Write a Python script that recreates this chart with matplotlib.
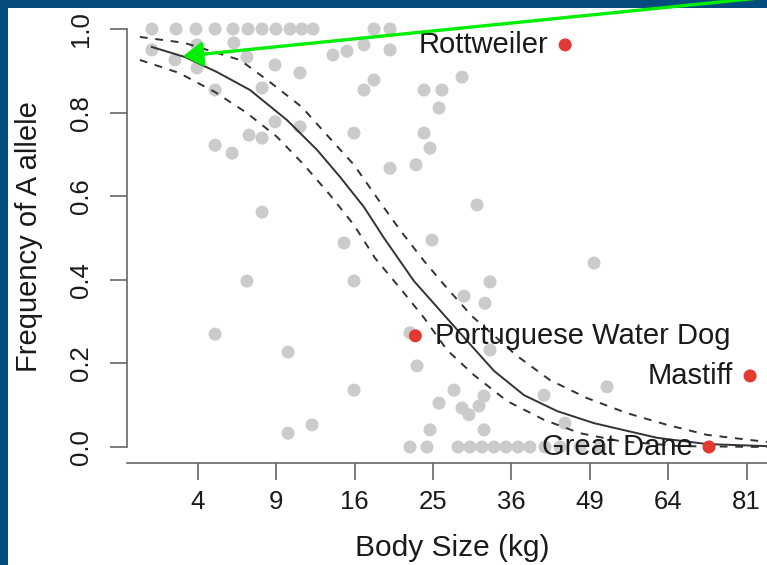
import numpy as np
import matplotlib.pyplot as plt
from matplotlib.patches import Rectangle

plt.rcParams['font.family'] = ['Liberation Sans', 'DejaVu Sans']

# grey dots: breed body size (kg) vs frequency of the A allele
size_kg = [2.00, 2.97, 3.91, 4.93, 6.00, 6.97, 7.95, 8.98, 10.09, 11.08, 12.04, 18.04, 19.82,
           2.00, 2.92, 3.96, 3.96, 6.06, 6.90, 8.91, 4.93, 7.95, 8.91, 7.04, 7.95, 4.93, 5.94,
           7.95, 10.91, 10.91, 13.87, 15.23, 16.97, 19.82, 18.04, 16.97, 23.87, 26.16, 28.84,
           25.77, 15.94, 23.87, 24.62, 19.82, 22.88, 30.93, 24.87, 14.94, 15.94, 6.90, 4.93,
           9.93, 15.94, 9.93, 11.95, 49.76, 32.80, 29.11, 32.07, 32.80, 23.00, 22.15, 27.75,
           31.93, 31.21, 28.84, 29.80, 25.77, 24.62, 31.93, 41.16, 44.67, 52.12,
           22.15, 24.24, 28.29, 29.94, 31.64, 33.39, 35.18, 37.02, 38.90, 41.33, 43.82, 47.27, 50.84]
freq_a = [1.0, 1.0, 1.0, 1.0, 1.0, 1.0, 1.0, 1.0, 1.0, 1.0, 1.0, 1.0, 1.0,
          0.950, 0.926, 0.962, 0.907, 0.967, 0.933, 0.914, 0.854, 0.859, 0.778, 0.746, 0.739, 0.722, 0.703,
          0.562, 0.895, 0.766, 0.938, 0.947, 0.962, 0.950, 0.878, 0.854, 0.854, 0.854, 0.885,
          0.811, 0.751, 0.751, 0.715, 0.667, 0.675, 0.579, 0.495, 0.488, 0.397, 0.397, 0.270,
          0.227, 0.136, 0.033, 0.053, 0.440, 0.395, 0.361, 0.344, 0.232, 0.194, 0.273, 0.136,
          0.122, 0.098, 0.093, 0.077, 0.105, 0.041, 0.041, 0.124, 0.057, 0.144,
          0.0, 0.0, 0.0, 0.0, 0.0, 0.0, 0.0, 0.0, 0.0, 0.0, 0.0, 0.0, 0.0]

# fitted curve and its confidence band
fit_kg = [2.00, 3.37, 5.04, 7.11, 9.85, 12.39, 14.55, 16.97, 19.14, 22.63, 26.42, 29.53,
          33.39, 37.96, 43.32, 49.76, 61.73, 72.16, 85.75]
fit_freq = [0.957, 0.933, 0.897, 0.854, 0.782, 0.711, 0.646, 0.574, 0.500, 0.397, 0.316, 0.254,
            0.182, 0.124, 0.086, 0.057, 0.022, 0.007, 0.002]
upper_kg = [1.59, 3.33, 6.44, 8.53, 11.08, 13.31, 15.94, 18.37, 20.97, 23.87, 26.82, 30.22,
            36.86, 42.15, 48.50, 55.87, 63.76, 72.16, 85.75]
upper_freq = [0.981, 0.967, 0.926, 0.873, 0.813, 0.746, 0.675, 0.596, 0.519, 0.445, 0.380, 0.313,
              0.218, 0.160, 0.117, 0.081, 0.053, 0.029, 0.012]
lower_kg = [1.59, 3.10, 4.93, 6.90, 9.06, 11.25, 13.59, 15.94, 18.15, 20.97, 23.87, 26.82,
            30.50, 35.33, 41.16, 47.27, 54.54, 66.40, 85.75]
lower_freq = [0.926, 0.895, 0.849, 0.799, 0.742, 0.675, 0.603, 0.531, 0.452, 0.380, 0.309, 0.232,
              0.172, 0.110, 0.065, 0.033, 0.014, 0.002, 0.0]

breeds = ['Rottweiler', 'Portuguese Water Dog', 'Mastiff', 'Great Dane']
breed_kg = [44.7, 22.8, 81.8, 72.6]
breed_freq = [0.962, 0.266, 0.170, 0.0]
label_side = ['left', 'right', 'left', 'left']

xticks = [4, 9, 16, 25, 36, 49, 64, 81]
yticks = [0.0, 0.2, 0.4, 0.6, 0.8, 1.0]

W, H = 767, 565
fig = plt.figure(figsize=(W / 100, H / 100), dpi=100)
fig.patch.set_facecolor('#054b7d')
fig.add_artist(Rectangle((8 / W, 0), 1, 1 - 8 / H, transform=fig.transFigure,
                         facecolor='white', edgecolor='none', zorder=-1))

ax = fig.add_axes([127 / W, 1 - 463 / H, (W - 127) / W, (463 - 12) / H])
ax.set_facecolor('none')
ax.set_xscale('function', functions=(lambda x: np.sqrt(np.clip(x, 0, None)), np.square))
ax.set_xlim(1.203, 85.75)
ax.set_ylim(-0.0383, 1.0407)

ax.scatter(size_kg, freq_a, s=88, color='#cbcbcb', edgecolors='none', zorder=1)
ax.plot(fit_kg, fit_freq, color='#333333', lw=1.4, zorder=2)
ax.plot(upper_kg, upper_freq, color='#333333', lw=1.4, ls=(0, (4, 4)), zorder=2)
ax.plot(lower_kg, lower_freq, color='#333333', lw=1.4, ls=(0, (4, 4)), zorder=2)

ax.scatter(breed_kg, breed_freq, s=88, color='#e23a33', edgecolors='none', zorder=3)
for name, x, y, side in zip(breeds, breed_kg, breed_freq, label_side):
    dx = -12 if side == 'left' else 14
    ax.annotate(name, (x, y), xytext=(dx, 0), textcoords='offset points',
                ha='right' if side == 'left' else 'left', va='center',
                fontsize=21, color='#1a1a1a', zorder=4, annotation_clip=False)

# green arrow pointing at the small-dog end of the curve
ax.annotate('', xy=(3.28, 0.935), xycoords='data',
            xytext=(1.03, 1.009), textcoords='figure fraction',
            arrowprops=dict(arrowstyle='-|>,head_length=0.4,head_width=0.25', mutation_scale=30,
                            color='#00ee00', lw=2.4, shrinkA=0, shrinkB=0),
            annotation_clip=False, zorder=5)

for s in ['top', 'right']:
    ax.spines[s].set_visible(False)
for s in ['left', 'bottom']:
    ax.spines[s].set_color('#666666')
    ax.spines[s].set_linewidth(1.2)
ax.spines['left'].set_bounds(0, 1)

ax.set_xticks(xticks)
ax.set_xticklabels([str(t) for t in xticks])
ax.set_yticks(yticks)
ax.set_yticklabels(['%.1f' % t for t in yticks], rotation=90, va='center')
ax.tick_params(axis='both', direction='out', length=12, width=1.2, color='#666666',
               labelsize=18.5, labelcolor='#1a1a1a')
ax.tick_params(axis='x', pad=7.5)
ax.tick_params(axis='y', pad=12.5)

ax.set_xlabel('Body Size (kg)', fontsize=21.5, color='#1a1a1a', va='baseline')
ax.xaxis.set_label_coords((452 - 127) / 640, (463 - 556) / 451)
ax.set_ylabel('Frequency of A allele', fontsize=21, color='#1a1a1a', va='baseline')
ax.yaxis.set_label_coords((37 - 127) / 640, (463 - 237) / 451)

fig.savefig('out.png', dpi=100, facecolor=fig.get_facecolor())
